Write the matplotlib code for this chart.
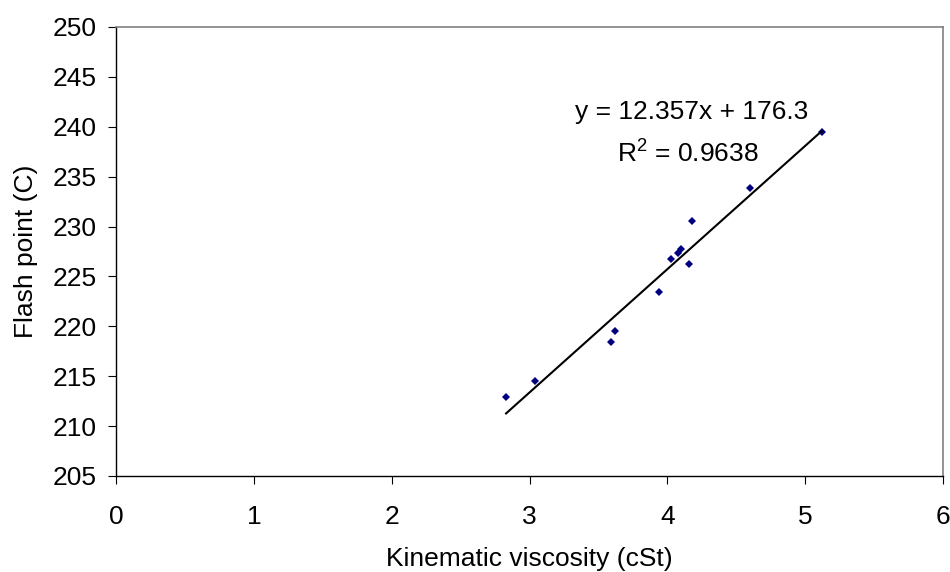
import matplotlib
matplotlib.use("Agg")
import matplotlib.pyplot as plt
import numpy as np

viscosity = [2.83, 3.04, 3.59, 3.62, 3.94, 4.03, 4.075, 4.10, 4.157, 4.177, 4.60, 5.12]
flash_point = [212.9, 214.5, 218.4, 219.5, 223.4, 226.7, 227.3, 227.8, 226.2, 230.6, 233.9, 239.5]
slope = 12.357
intercept = 176.3
r_squared = 0.9638
x_ticks = [0, 1, 2, 3, 4, 5, 6]
y_ticks = [205, 210, 215, 220, 225, 230, 235, 240, 245, 250]

plt.rcParams['font.family'] = ['Liberation Sans', 'DejaVu Sans']
plt.rcParams['mathtext.fontset'] = 'custom'
plt.rcParams['mathtext.rm'] = 'Liberation Sans'
plt.rcParams['mathtext.it'] = 'Liberation Sans'
plt.rcParams['mathtext.bf'] = 'Liberation Sans:bold'
fs = 19

fig = plt.figure(figsize=(9.5, 5.72), dpi=100)
ax = fig.add_axes([116/950, 1-476/572, (943-116)/950, (476-27)/572])

ax.plot(viscosity, flash_point, linestyle='none', marker='D', markersize=3.9,
        color='#000080', markeredgewidth=0)
xs = np.array([min(viscosity), max(viscosity)])
ax.plot(xs, slope*xs + intercept, color='black', lw=1.5)

ax.set_xlim(0, 6)
ax.set_ylim(205, 250)
ax.set_xticks(x_ticks)
ax.set_yticks(y_ticks)
ax.tick_params(axis='both', direction='out', length=5.5, width=0.8, labelsize=fs, color='black')
ax.tick_params(axis='y', pad=8.6)
ax.tick_params(axis='x', pad=15.5)
for s in ['top', 'right']:
    ax.spines[s].set_color('#808080')
    ax.spines[s].set_linewidth(1.2)
for s in ['left', 'bottom']:
    ax.spines[s].set_color('black')
    ax.spines[s].set_linewidth(1.0)

ax.set_xlabel('Kinematic viscosity (cSt)', fontsize=fs, labelpad=13)
ax.set_ylabel('Flash point (C)', fontsize=fs, labelpad=10)

fig.text(692/950, 1-119/572, f'y = {slope}x + {intercept}', fontsize=fs, ha='center', va='baseline')
fig.text(688/950, 1-163/572, f'R$^{{\\mathrm{{2}}}}$ = {r_squared}', fontsize=fs, ha='center', va='baseline')

fig.savefig('out.png', dpi=100)
